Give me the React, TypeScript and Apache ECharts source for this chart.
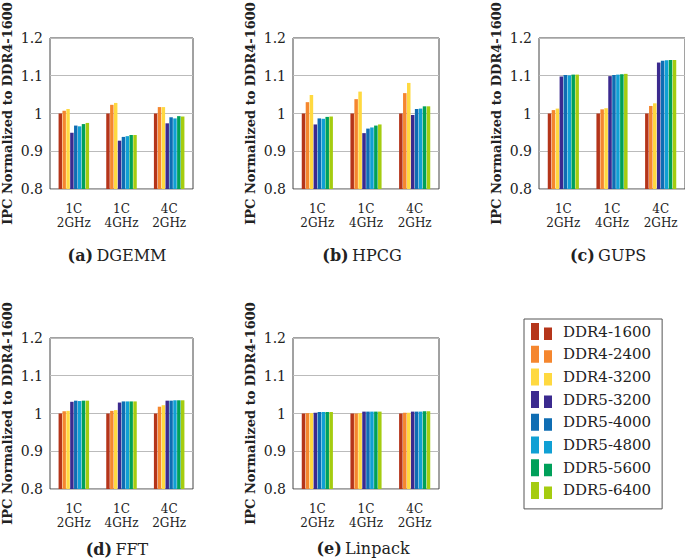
import React, { useEffect, useRef } from "react";
import * as echarts from "echarts";

const categories = ["1C\n2GHz", "1C\n4GHz", "4C\n2GHz"];
const seriesNames = [
  "DDR4-1600",
  "DDR4-2400",
  "DDR4-3200",
  "DDR5-3200",
  "DDR5-4000",
  "DDR5-4800",
  "DDR5-5600",
  "DDR5-6400",
];
const colors = ["#b5351a", "#f5862e", "#ffd940", "#3b2a8f", "#0f6db3", "#10a0d4", "#00a05a", "#a5cc10"];
const yTicks = [0.8, 0.9, 1.0, 1.1, 1.2];

// values per panel: [series][category]
const dgemm = [
  [1.0, 1.0, 1.0],
  [1.007, 1.023, 1.017],
  [1.012, 1.028, 1.017],
  [0.949, 0.928, 0.974],
  [0.968, 0.938, 0.99],
  [0.966, 0.94, 0.987],
  [0.972, 0.943, 0.993],
  [0.975, 0.943, 0.992],
];
const hpcg = [
  [1.0, 1.0, 1.0],
  [1.03, 1.038, 1.054],
  [1.049, 1.058, 1.081],
  [0.971, 0.948, 0.996],
  [0.987, 0.96, 1.012],
  [0.986, 0.963, 1.013],
  [0.991, 0.968, 1.019],
  [0.992, 0.971, 1.019],
];
const gups = [
  [1.0, 1.0, 1.0],
  [1.009, 1.011, 1.02],
  [1.013, 1.014, 1.027],
  [1.098, 1.099, 1.135],
  [1.102, 1.102, 1.14],
  [1.101, 1.103, 1.141],
  [1.103, 1.104, 1.142],
  [1.103, 1.105, 1.142],
];
const fft = [
  [1.0, 1.0, 1.0],
  [1.006, 1.007, 1.018],
  [1.007, 1.009, 1.022],
  [1.031, 1.029, 1.034],
  [1.034, 1.032, 1.034],
  [1.033, 1.032, 1.035],
  [1.034, 1.032, 1.035],
  [1.034, 1.032, 1.035],
];
const linpack = [
  [1.0, 1.0, 1.0],
  [1.001, 1.0, 1.002],
  [1.001, 1.001, 1.002],
  [1.002, 1.005, 1.005],
  [1.004, 1.005, 1.005],
  [1.004, 1.005, 1.005],
  [1.004, 1.005, 1.006],
  [1.004, 1.005, 1.006],
];

const panels = [
  { letter: "(a)", name: "DGEMM", data: dgemm },
  { letter: "(b)", name: "HPCG", data: hpcg },
  { letter: "(c)", name: "GUPS", data: gups },
  { letter: "(d)", name: "FFT", data: fft },
  { letter: "(e)", name: "Linpack", data: linpack },
];

const FONT = "DejaVu Serif";

const gridPos = [
  { left: 47, top: 38 },
  { left: 293, top: 38 },
  { left: 539, top: 38 },
  { left: 47, top: 338 },
  { left: 293, top: 338 },
];
const titlePos = [
  { x: 117, y: 255 },
  { x: 362, y: 255 },
  { x: 608, y: 255 },
  { x: 117, y: 549 },
  { x: 363, y: 548 },
];

export default function App() {
  const ref = useRef<HTMLDivElement>(null);
  useEffect(() => {
    if (!ref.current) return;
    const chart = echarts.init(ref.current, null, { renderer: "svg" });
    const grids = gridPos.map((p) => ({
      left: p.left,
      top: p.top,
      width: 146,
      height: 151,
      show: true,
      borderColor: "#444",
      borderWidth: 1,
      backgroundColor: "#fff",
      containLabel: false,
    }));
    const xAxes = panels.map((_, i) => ({
      type: "category",
      gridIndex: i,
      data: categories,
      axisLine: { show: false },
      axisTick: { show: false },
      axisLabel: {
        interval: 0,
        hideOverlap: false,
        fontFamily: FONT,
        fontSize: 12,
        lineHeight: 14,
        color: "#222",
        margin: 13,
      },
    }));
    const yAxes = panels.map((_, i) => ({
      type: "value",
      gridIndex: i,
      min: yTicks[0],
      max: yTicks[yTicks.length - 1],
      interval: 0.1,
      name: "IPC Normalized to DDR4-1600",
      nameLocation: "middle",
      nameRotate: 90,
      nameGap: 36,
      nameTextStyle: { fontFamily: FONT, fontSize: 13, fontWeight: "bold", color: "#222" },
      axisLine: { show: false },
      axisTick: { show: false },
      splitLine: { show: true, lineStyle: { color: "#bbb", width: 1 } },
      axisLabel: {
        fontFamily: FONT,
        fontSize: 14,
        color: "#222",
        margin: 7,
        formatter: (v: number) => String(Math.round(v * 10) / 10),
      },
    }));
    const series: any[] = [];
    panels.forEach((p, gi) => {
      seriesNames.forEach((name, si) => {
        series.push({
          type: "bar",
          name,
          xAxisIndex: gi,
          yAxisIndex: gi,
          data: p.data[si],
          itemStyle: { color: colors[si] },
          barCategoryGap: "36%",
          barGap: "12%",
        });
      });
    });
    const graphics = panels.map((p, i) => ({
      type: "text",
      x: titlePos[i].x,
      y: titlePos[i].y,
      style: {
        text: `{b|${p.letter}} {n|${p.name}}`,
        align: "center",
        verticalAlign: "middle",
        rich: {
          b: { fontFamily: FONT, fontSize: 16, fontWeight: "bold", fill: "#222" },
          n: { fontFamily: FONT, fontSize: 16, fill: "#222" },
        },
      },
    }));
    chart.setOption({
      animation: false,
      backgroundColor: "#fff",
      color: colors,
      grid: grids,
      xAxis: xAxes,
      yAxis: yAxes,
      series,
      legend: {
        orient: "vertical",
        left: 524,
        top: 319,
        data: seriesNames,
        icon: "path://M0,0h8v17h-8z M13,4.5h8v12.5h-8z",
        itemWidth: 21,
        itemHeight: 17,
        itemGap: 5.7,
        borderColor: "#555",
        borderWidth: 1,
        padding: [4, 11, 10, 7],
        selectedMode: false,
        textStyle: {
          fontFamily: FONT,
          fontSize: 15,
          color: "#222",
          padding: [0, 0, 0, 6],
        },
      },
      graphic: graphics,
    });
    return () => chart.dispose();
  }, []);
  return (
    <div
      ref={ref}
      style={{ position: "absolute", left: 0, top: 0, width: 685, height: 559 }}
    />
  );
}
